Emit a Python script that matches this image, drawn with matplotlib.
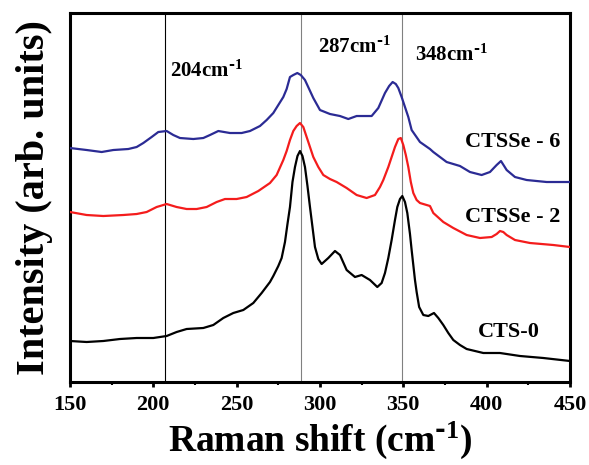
import matplotlib
matplotlib.use("Agg")
import matplotlib.pyplot as plt
from matplotlib.ticker import MultipleLocator, NullLocator

plt.rcParams['font.family'] = ['Liberation Serif', 'DejaVu Serif']
plt.rcParams['font.weight'] = 'bold'
plt.rcParams['mathtext.default'] = 'regular'

# Raman shift (cm-1) and intensity (arb. units, curves already offset)
cts0_x = [150, 160, 170, 180, 190, 200, 208, 214, 220, 230, 236, 242, 248, 254, 260, 265,
          270, 272, 275, 277, 279, 280.5, 282, 283.5, 285, 286.5, 288, 289.5, 291, 292.5,
          294, 295.5, 297, 299, 301, 305, 309, 312, 316, 321, 325, 330, 334.4, 337, 339,
          341, 343, 345, 346.4, 348, 349.4, 351, 352.4, 354, 355, 357, 358, 359.5, 362, 365,
          368.4, 371, 374, 377, 380, 384, 388, 393, 398, 408, 420, 434, 450]
cts0_y = [41, 40, 41, 43, 44, 44, 46, 50, 53, 54, 57, 64, 69, 72, 79, 89,
          100, 106, 116, 124, 140, 158, 175, 200, 215, 226, 231, 226, 215, 196,
          175, 155, 135, 123, 118, 124, 131, 127, 112, 105, 107, 102, 95, 99, 109,
          124, 142, 162, 175, 183, 186, 180, 169, 148, 132, 102, 90, 75, 67, 66,
          69, 64, 57, 49, 42, 37, 33, 31, 29, 29, 26, 24, 21]

ctsse2_x = [150, 160, 170, 182, 190, 196, 202, 208, 214, 220, 226, 232, 238, 243, 250, 256,
            263, 270, 274, 278, 280, 282, 284, 286, 288, 290, 292, 294, 296, 299, 302, 306,
            310, 316, 322, 328, 333, 336, 338, 341, 343, 345, 347, 348.5, 350, 351.5, 353,
            354.5, 356, 358, 360, 366, 368, 374, 380, 388, 396, 403, 406, 408, 410, 412, 417,
            426, 440, 450]
ctsse2_y = [170, 167, 166, 167, 168, 170, 175, 178, 175, 173, 173, 175, 180, 183, 183, 185,
            191, 199, 207, 222, 231, 242, 251, 256, 259, 255, 245, 235, 225, 215, 207, 203,
            200, 194, 187, 184, 187, 195, 202, 215, 225, 235, 243, 244, 237, 227, 215,
            200, 189, 182, 179, 176, 169, 160, 154, 147, 144, 145, 148, 151, 150, 147, 142,
            139, 137, 135]

ctsse6_x = [150, 160, 169, 176, 185, 190, 194, 199, 203, 208, 212, 216, 224, 230, 234, 239,
            246, 253, 258, 264, 268, 272, 275, 278, 280, 282, 284, 286.4, 288.5, 291, 293.5,
            296, 300, 306, 312, 317, 322, 331, 335, 339, 341.5, 343.6, 345.5, 347, 349, 351,
            353, 355, 357.5, 360, 366, 368, 376, 384, 390, 397, 402, 406, 408.6, 410.5, 412,
            417, 424, 436, 450]
ctsse6_y = [234, 232, 230, 232, 233, 235, 239, 245, 250, 251, 247, 244, 243, 244, 247, 251,
            249, 249, 251, 256, 262, 269, 277, 285, 293, 305, 307, 309, 307, 302, 293,
            284, 272, 268, 266, 263, 266, 266, 274, 289, 296, 300, 298, 294, 285, 275,
            265, 252, 246, 240, 233, 230, 220, 216, 210, 207, 210, 217, 221, 216, 212,
            205, 202, 200, 200]

peak_pos = [207, 288.5, 349.5]
peak_colors = ['black', 'gray', 'gray']
peak_labels = [r'204cm$^{\text{-}1}$', r'287cm$^{\text{-}1}$', r'348cm$^{\text{-}1}$']
peak_label_xy = [(210, 305), (299, 329), (357, 321)]

sample_labels = ['CTSSe - 6', 'CTSSe - 2', 'CTS-0']
sample_label_xy = [(387, 235), (387, 160), (395, 45)]

fig = plt.figure(figsize=(5.89, 4.65), dpi=100)
ax = fig.add_axes([0.1188, 0.1785, 0.8489, 0.7935])

for xp, c in zip(peak_pos, peak_colors):
    ax.axvline(xp, color=c, lw=0.8, zorder=1)

ax.plot(cts0_x, cts0_y, color='black', lw=1.6, zorder=3)
ax.plot(ctsse2_x, ctsse2_y, color='#f41c1c', lw=1.6, zorder=3)
ax.plot(ctsse6_x, ctsse6_y, color='#2b2b94', lw=1.6, zorder=3)

for lab, (tx, ty) in zip(peak_labels, peak_label_xy):
    ax.text(tx, ty, lab, fontsize=15, fontweight='bold', ha='left', va='baseline')
for lab, (tx, ty) in zip(sample_labels, sample_label_xy):
    ax.text(tx, ty, lab, fontsize=16, fontweight='bold', ha='left', va='baseline')

ax.set_xlim(150, 450)
ax.set_ylim(0, 369)
ax.xaxis.set_major_locator(MultipleLocator(50))
ax.xaxis.set_minor_locator(MultipleLocator(25))
ax.yaxis.set_major_locator(NullLocator())
ax.tick_params(axis='x', which='major', direction='out', length=3.5, width=2, labelsize=16, pad=6)
ax.tick_params(axis='x', which='minor', direction='out', length=2, width=1.5)
for s in ax.spines.values():
    s.set_linewidth(2.2)

ax.set_xlabel(r'Raman shift (cm$^{\text{-}1}$)', fontsize=27, fontweight='bold', labelpad=3)
ax.set_ylabel('Intensity (arb. units)', fontsize=29, fontweight='bold', labelpad=12)

fig.savefig('out.png', dpi=100)
